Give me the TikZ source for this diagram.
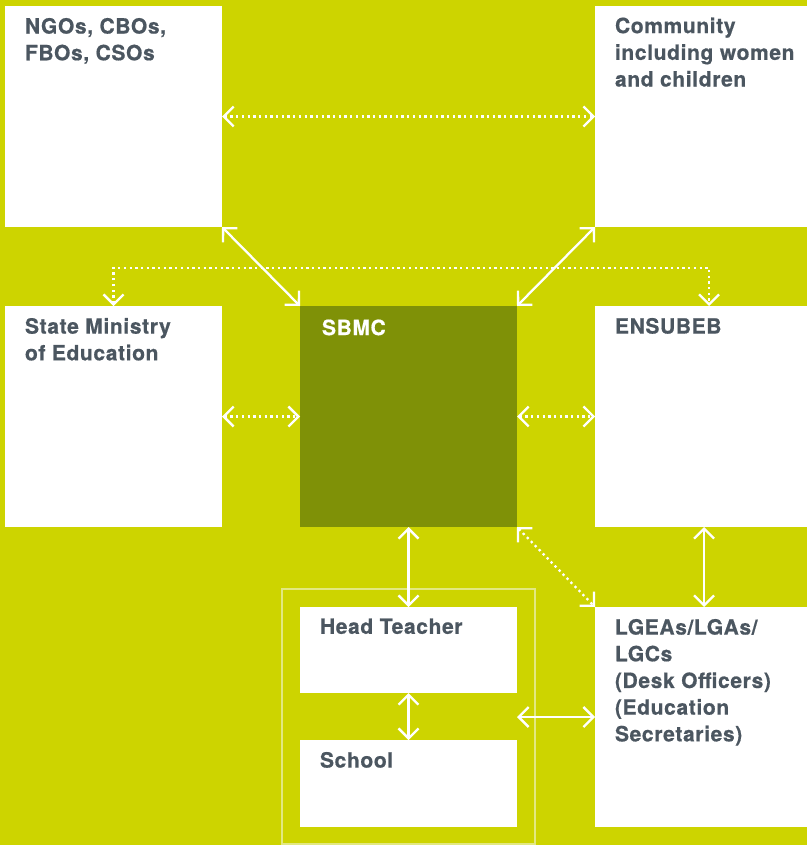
\documentclass[tikz,border=0pt]{standalone}
\usepackage{fontspec}
\newfontfamily\hv[LetterSpace=3.0,FakeBold=0.6]{TeX Gyre Heros}
\usetikzlibrary{arrows.meta,calc}
\definecolor{bg}{RGB}{205,212,0}
\definecolor{olivebox}{RGB}{127,145,7}
\definecolor{ink}{RGB}{75,86,96}
\definecolor{pale}{RGB}{226,232,130}
\begin{document}
\begin{tikzpicture}[x=1pt,y=-1pt,
  box/.style={fill=white, draw=none, inner sep=0pt, outer sep=0pt, anchor=north west},
  txt/.style={anchor=north west, inner sep=0pt, outer sep=0pt, align=left, text=ink,
    font=\hv\bfseries\fontsize{21}{26.7}\selectfont},
  barb/.tip={Straight Barb[length=10pt,width=20pt,line width=2.3pt]},
  sarr/.style={draw=white, line width=2.3pt, barb-barb},
  darr/.style={draw=white, line width=2.3pt, dash pattern=on 2.3pt off 3.4pt, line cap=butt, barb-barb}]
\useasboundingbox (0,0) rectangle (807,845);
\clip (0,0) rectangle (807,845);
\fill[bg] (0,0) rectangle (807,845);
% frame around head teacher and school
\node[draw=pale, line width=2pt, inner sep=0pt, outer sep=0pt, minimum width=253pt, minimum height=255pt, anchor=north west] (frame) at (282,589) {};
% boxes
\node[box, minimum width=217pt, minimum height=221pt] (ngo) at (5,6) {};
\node[box, minimum width=228pt, minimum height=221pt] (com) at (595,6) {};
\node[box, minimum width=217pt, minimum height=221pt] (smo) at (5,306) {};
\node[box, fill=olivebox, minimum width=217pt, minimum height=221pt] (sbmc) at (300,306) {};
\node[box, minimum width=228pt, minimum height=221pt] (ens) at (595,306) {};
\node[box, minimum width=217pt, minimum height=86pt] (ht) at (300,607) {};
\node[box, minimum width=217pt, minimum height=87pt] (sch) at (300,740) {};
\node[box, minimum width=228pt, minimum height=220pt] (lgea) at (595,607) {};
% labels
\node[txt] (ngoT) at ($(ngo.north west)+(20,12)$) {NGOs, CBOs,\\FBOs, CSOs};
\node[txt] (comT) at ($(com.north west)+(20,11.5)$) {Community\\including women\\and children};
\node[txt] (smoT) at ($(smo.north west)+(20,12)$) {State Ministry\\of Education};
\node[txt, text=white] (sbmcT) at ($(sbmc.north west)+(22,13.5)$) {SBMC};
\node[txt] (ensT) at ($(ens.north west)+(20,12)$) {ENSUBEB};
\node[txt] (htT) at ($(ht.north west)+(20,11.5)$) {Head Teacher};
\node[txt] (schT) at ($(sch.north west)+(20,12)$) {School};
\node[txt] (lgeaT) at ($(lgea.north west)+(20,12)$) {LGEAs/LGAs/\\LGCs\\(Desk Officers)\\(Education\\Secretaries)};
% helper coordinates
\coordinate (dl) at (113.5,268);
\coordinate (dr) at (709,268);
\coordinate (rc) at (704,0);
% dotted connectors
\draw[darr] (ngo.east) -- (com.west);
\draw[darr] (smo.north -| dl) -- (dl) -- (dr) -- (ens.north -| dr);
\draw[darr] (smo.east) -- (sbmc.west);
\draw[darr] (sbmc.east) -- (ens.west);
\draw[darr] (sbmc.south east) -- (lgea.north west);
% solid connectors
\draw[sarr] (ngo.south east) -- (sbmc.north west);
\draw[sarr] (com.south west) -- (sbmc.north east);
\draw[sarr] (sbmc.south) -- (ht.north);
\draw[sarr] (ht.south) -- (sch.north);
\draw[sarr] (ens.south -| rc) -- (lgea.north -| rc);
\draw[sarr] (ht.east |- lgea.west) -- (lgea.west);
\end{tikzpicture}
\end{document}
